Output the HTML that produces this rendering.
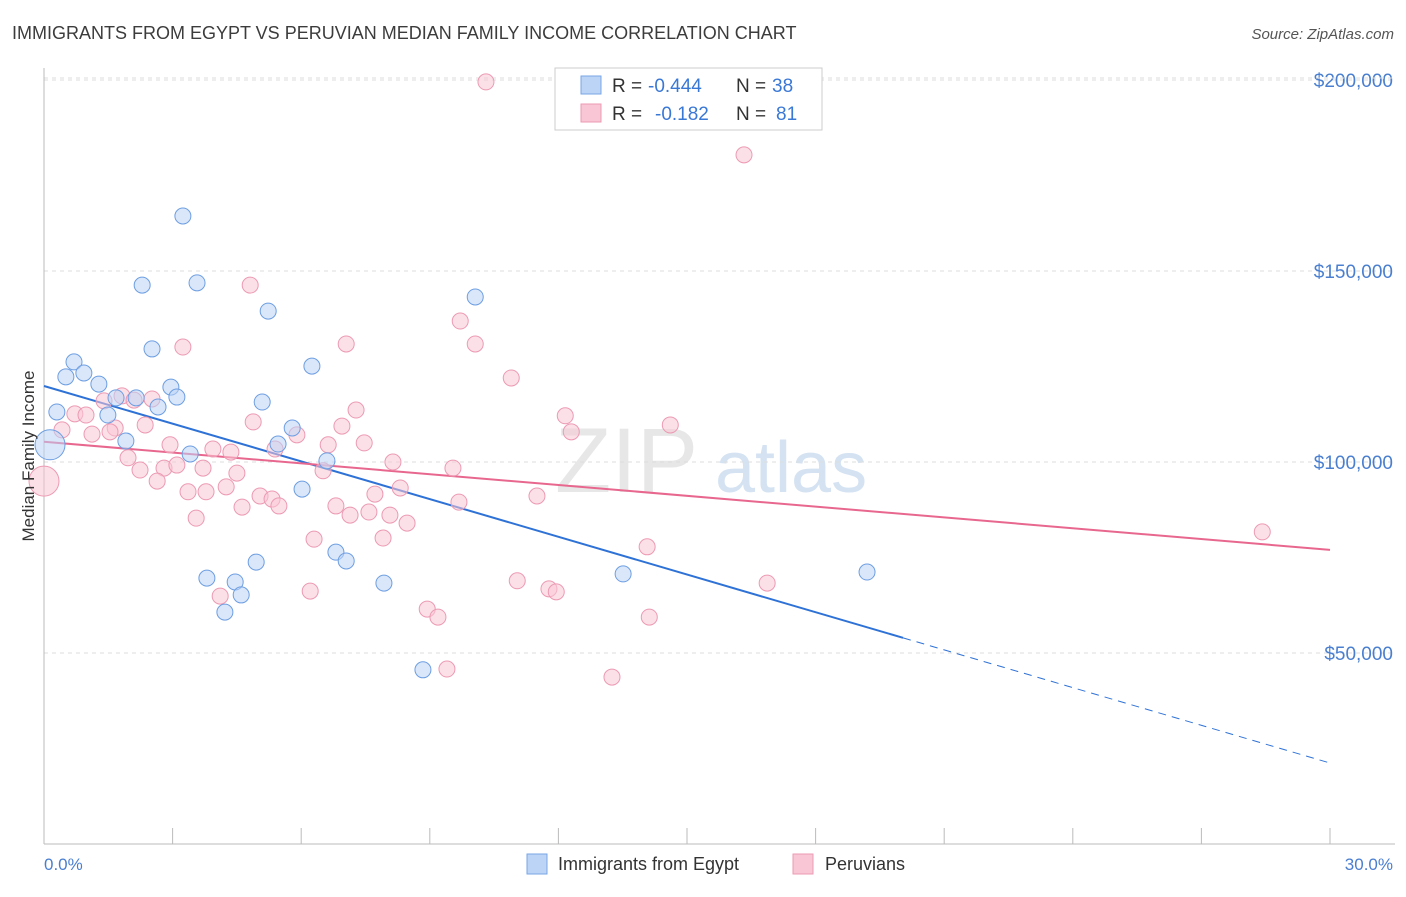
<!DOCTYPE html>
<html><head><meta charset="utf-8"><style>
body{margin:0;background:#fff;font-family:"Liberation Sans",sans-serif;}
svg text{font-family:"Liberation Sans",sans-serif;}
</style></head><body>
<svg id="chart" width="1406" height="892" xmlns="http://www.w3.org/2000/svg">
<text x="12" y="39" font-size="18" fill="#3c3c3c">IMMIGRANTS FROM EGYPT VS PERUVIAN MEDIAN FAMILY INCOME CORRELATION CHART</text>
<text x="1394" y="39" font-size="15" fill="#555" text-anchor="end" font-style="italic">Source: ZipAtlas.com</text>
<text x="555" y="492" font-size="92" fill="#d8d8d8" font-family="Liberation Serif" opacity="0.6">ZIP</text>
<text x="715" y="492" font-size="72" fill="#b9d0ea" opacity="0.6">atlas</text>
<g id="grid"></g><g id="axes"></g><g id="trends"></g><g id="pts"></g>
<text transform="translate(34,456) rotate(-90)" font-size="17" fill="#333" text-anchor="middle">Median Family Income</text>
<text x="44" y="870" font-size="17" fill="#4a7fd0">0.0%</text>
<text x="1393" y="870" font-size="17" fill="#4a7fd0" text-anchor="end">30.0%</text>
<g>
<rect x="555" y="68" width="267" height="62" fill="#fff" stroke="#ccc"/>
<rect x="581" y="76" width="20" height="18" fill="#bcd4f5" stroke="#7aa6e6"/>
<rect x="581" y="104" width="20" height="18" fill="#f9c6d6" stroke="#ec9ab3"/>
<text x="612" y="92" font-size="19" fill="#333">R =</text><text x="648" y="92" font-size="19" fill="#3a78d6">-0.444</text>
<text x="736" y="92" font-size="19" fill="#333">N =</text><text x="772" y="92" font-size="19" fill="#3a78d6">38</text>
<text x="612" y="120" font-size="19" fill="#333">R =</text><text x="655" y="120" font-size="19" fill="#3a78d6">-0.182</text>
<text x="736" y="120" font-size="19" fill="#333">N =</text><text x="776" y="120" font-size="19" fill="#3a78d6">81</text>
</g>
<g><rect x="527" y="854" width="20" height="20" fill="#bcd4f5" stroke="#7aa6e6"/><text x="558" y="870" font-size="18" fill="#333">Immigrants from Egypt</text></g>
<g><rect x="793" y="854" width="20" height="20" fill="#f9c6d6" stroke="#ec9ab3"/><text x="825" y="870" font-size="18" fill="#333">Peruvians</text></g>
</svg>
<script>
const yTicks=[50000,100000,150000,200000];
const yTickLabels=["$50,000","$100,000","$150,000","$200,000"];
const xTicks=[0,3,6,9,12,15,18,21,24,27,30];
const blueX=[3.24,2.29,3.57,5.23,10.06,2.52,0.70,0.51,0.93,6.25,1.28,2.96,3.10,1.68,2.15,2.66,0.30,1.49,5.09,1.91,5.79,5.46,3.41,6.60,6.02,6.81,7.05,4.95,3.80,4.46,7.93,13.51,19.20,4.60,4.22,8.84,0.14];
const blueY=[164.4,146.3,146.9,139.5,143.2,129.6,126.2,122.3,123.3,125.1,120.4,119.6,117.0,116.8,116.8,114.4,113.1,112.3,115.7,105.5,108.9,104.7,102.1,100.3,92.9,76.4,74.1,73.8,69.6,68.6,68.3,70.7,71.2,65.2,60.7,45.6,104.5];
const pinkX=[10.31,16.33,4.81,9.71,3.24,7.05,10.06,10.90,1.82,2.52,2.10,1.40,7.28,0.72,0.98,12.16,4.88,2.36,6.95,12.30,14.61,0.42,1.12,1.66,1.54,5.90,2.94,3.94,4.36,5.39,6.63,7.47,1.96,8.14,3.71,2.80,3.10,2.24,4.50,9.54,6.51,2.64,8.31,3.36,3.78,4.25,7.72,5.04,11.50,9.68,5.32,5.48,4.62,6.81,7.58,7.14,8.07,8.47,3.55,6.30,7.91,14.07,11.04,16.87,11.78,11.95,6.21,4.11,8.94,9.19,14.12,9.40,13.25,28.42,0.0];
const pinkY=[199.5,180.4,146.3,136.9,130.1,130.9,130.9,122.0,117.3,116.5,116.2,116.0,113.6,112.6,112.3,112.1,110.5,109.7,109.4,107.9,109.7,108.4,107.3,108.9,107.9,107.1,104.5,103.4,102.6,103.4,104.5,105.0,101.1,100.0,98.4,98.4,99.2,97.9,97.1,98.4,97.7,95.0,93.2,92.2,92.2,93.5,91.6,91.1,91.1,89.5,90.3,88.5,88.2,88.5,86.9,86.1,86.1,84.0,85.3,79.8,80.1,77.8,68.9,68.3,66.8,66.0,66.2,64.9,61.5,59.4,59.4,45.8,43.7,81.7,95.0];
const blueTrend=[119.9,21.2]; // y(k$) at x=0 and x=30
const blueSolidEnd=20.04;
const pinkTrend=[105.3,77.0];
const NS="http://www.w3.org/2000/svg";
const X=v=>44+v/30*1286;
const Y=v=>844-v/50000*191;
const Yk=v=>Y(v*1000);
function mk(tag,attrs,parent){const e=document.createElementNS(NS,tag);for(const k in attrs)e.setAttribute(k,attrs[k]);document.getElementById(parent).appendChild(e);return e;}
yTicks.forEach((t,i)=>{
 const g=mk('line',{x1:44,x2:1395,y1:Y(t),y2:Y(t),stroke:'#ddd','stroke-dasharray':'4,4'},'grid');
 
 
 const l=mk('text',{x:1393,y:Y(t)+7,'font-size':19,fill:'#4a7fd0','text-anchor':'end'},'grid');
 l.textContent=yTickLabels[i];
 
 
});
const topG=mk('line',{x1:44,x2:1395,y1:78,y2:78,stroke:'#ddd','stroke-dasharray':'4,4'},'grid');


const xa=mk('line',{x1:44,x2:1395,y1:844,y2:844,stroke:'#bbb'},'axes');


const ya=mk('line',{x1:44,x2:44,y1:68,y2:844,stroke:'#bbb'},'axes');


xTicks.forEach(t=>{
 const k=mk('line',{x1:X(t),x2:X(t),y1:828,y2:844,stroke:'#bbb'},'axes');
 
 
});
const by=x=>blueTrend[0]+(blueTrend[1]-blueTrend[0])*x/30;
const py=x=>pinkTrend[0]+(pinkTrend[1]-pinkTrend[0])*x/30;
function dots(xs,ys,fill,stroke,name){
 xs.forEach((x,i)=>{
  const big=(x<0.2);
  const c=mk('circle',{cx:X(x),cy:Yk(ys[i]),r:big?15:8,fill:fill,'fill-opacity':0.55,stroke:stroke,'stroke-width':1},'pts');
  
  
 });
}
dots(pinkX,pinkY,'#f9c6d6','#ec9ab3','peruvian-point');
dots(blueX,blueY,'#bcd4f5','#6d9ee2','egypt-point');
const t1=mk('line',{x1:X(0),y1:Yk(by(0)),x2:X(blueSolidEnd),y2:Yk(by(blueSolidEnd)),stroke:'#2f72d6','stroke-width':2},'trends');


const t2=mk('line',{x1:X(blueSolidEnd),y1:Yk(by(blueSolidEnd)),x2:X(30),y2:Yk(by(30)),stroke:'#2f72d6','stroke-width':1,'stroke-dasharray':'8,6'},'trends');


const t3=mk('line',{x1:X(0),y1:Yk(py(0)),x2:X(30),y2:Yk(py(30)),stroke:'#e8678f','stroke-width':2},'trends');


</script>
</body></html>
